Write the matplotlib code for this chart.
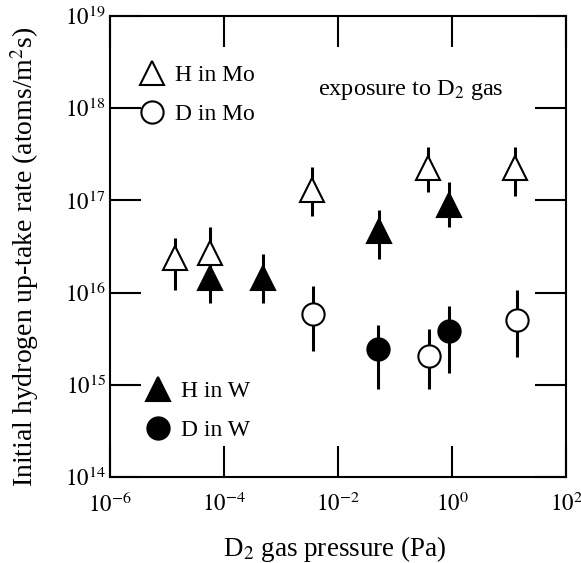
import numpy as np
import matplotlib
matplotlib.use("Agg")
import matplotlib.pyplot as plt

plt.rcParams['font.family'] = ['Liberation Serif', 'DejaVu Serif']
plt.rcParams['mathtext.fontset'] = 'stix'

# data (pressure in Pa, rate in atoms/m2s)
h_mo_x = [1.4e-5, 5.6e-5, 3.5e-3, 0.38, 12.7]
h_mo_y = [2.4e16, 2.7e16, 1.3e17, 2.25e17, 2.25e17]
h_mo_lo = [1.07e16, 1.25e16, 6.8e16, 1.23e17, 1.12e17]
h_mo_hi = [3.9e16, 5.2e16, 2.3e17, 3.8e17, 3.8e17]

d_mo_x = [3.6e-3, 0.40, 13.6]
d_mo_y = [5.8e15, 2.05e15, 5.1e15]
d_mo_lo = [2.35e15, 8.9e14, 2.0e15]
d_mo_hi = [1.17e16, 4.0e15, 1.07e16]

h_w_x = [5.6e-5, 4.9e-4, 5.3e-2, 0.9]
h_w_y = [1.45e16, 1.45e16, 4.7e16, 8.9e16]
h_w_lo = [7.8e15, 7.8e15, 2.3e16, 5.1e16]
h_w_hi = [2.8e16, 2.65e16, 7.8e16, 1.58e17]

d_w_x = [5.1e-2, 0.9]
d_w_y = [2.45e15, 3.8e15]
d_w_lo = [8.9e14, 1.33e15]
d_w_hi = [4.5e15, 7.2e15]

fig = plt.figure(figsize=(5.81, 5.63), dpi=100)
ax = fig.add_axes([0.1893, 0.1527, 0.7849, 0.8189])

def draw(x, y, lo, hi, marker, face, ms):
    x = np.array(x); y = np.array(y)
    err = [y - np.array(lo), np.array(hi) - y]
    ax.errorbar(x, y, yerr=err, fmt='none', ecolor='black', elinewidth=2.2, capsize=0, zorder=2)
    ln, = ax.plot(x, y, linestyle='none', marker=marker, markersize=ms,
                  markerfacecolor=face, markeredgecolor='black', markeredgewidth=1.5, zorder=3)
    return ln

l1 = draw(h_mo_x, h_mo_y, h_mo_lo, h_mo_hi, '^', 'white', 17)
l2 = draw(d_mo_x, d_mo_y, d_mo_lo, d_mo_hi, 'o', 'white', 16)
l3 = draw(h_w_x, h_w_y, h_w_lo, h_w_hi, '^', 'black', 17)
l4 = draw(d_w_x, d_w_y, d_w_lo, d_w_hi, 'o', 'black', 16)

ax.set_xscale('log')
ax.set_yscale('log')
ax.set_xlim(1e-6, 1e2)
ax.set_ylim(1e14, 1e19)

xt = [1e-6, 1e-4, 1e-2, 1e0, 1e2]
yt = [1e14, 1e15, 1e16, 1e17, 1e18, 1e19]
ax.set_xticks(xt)
ax.set_xticklabels(['$10^{-6}$', '$10^{-4}$', '$10^{-2}$', '$10^{0}$', '$10^{2}$'])
ax.set_yticks(yt)
ax.set_yticklabels(['$10^{%d}$' % k for k in range(14, 20)])
ax.minorticks_off()
ax.tick_params(which='major', direction='in', length=22, width=1.5,
               top=True, right=True, labelsize=16.5)
ax.tick_params(axis='x', pad=11)
ax.tick_params(axis='y', pad=3)
for s in ax.spines.values():
    s.set_linewidth(1.5)

ax.set_xlabel('D$_2$ gas pressure (Pa)', fontsize=19.5)
ax.xaxis.set_label_coords(0.492, -0.124)
ax.set_ylabel('Initial hydrogen up-take rate (atoms/m$^2$s)', fontsize=20)
ax.yaxis.set_label_coords(-0.151, 0.477)

ax.text(0.66, 0.84, 'exposure to D$_2$ gas', transform=ax.transAxes,
        fontsize=17.5, ha='center', va='center')

leg1 = ax.legend([l1, l2], ['H in Mo', 'D in Mo'], loc='upper left',
                 bbox_to_anchor=(0.045, 0.915), borderaxespad=0, frameon=False,
                 fontsize=17, numpoints=1, handlelength=1.0, handletextpad=0.5,
                 labelspacing=0.75)
ax.add_artist(leg1)
ax.legend([l3, l4], ['H in W', 'D in W'], loc='upper left',
          bbox_to_anchor=(0.058, 0.23), borderaxespad=0, frameon=False,
          fontsize=17, numpoints=1, handlelength=1.0, handletextpad=0.5,
          labelspacing=0.75)

fig.savefig('out.png', dpi=100)
